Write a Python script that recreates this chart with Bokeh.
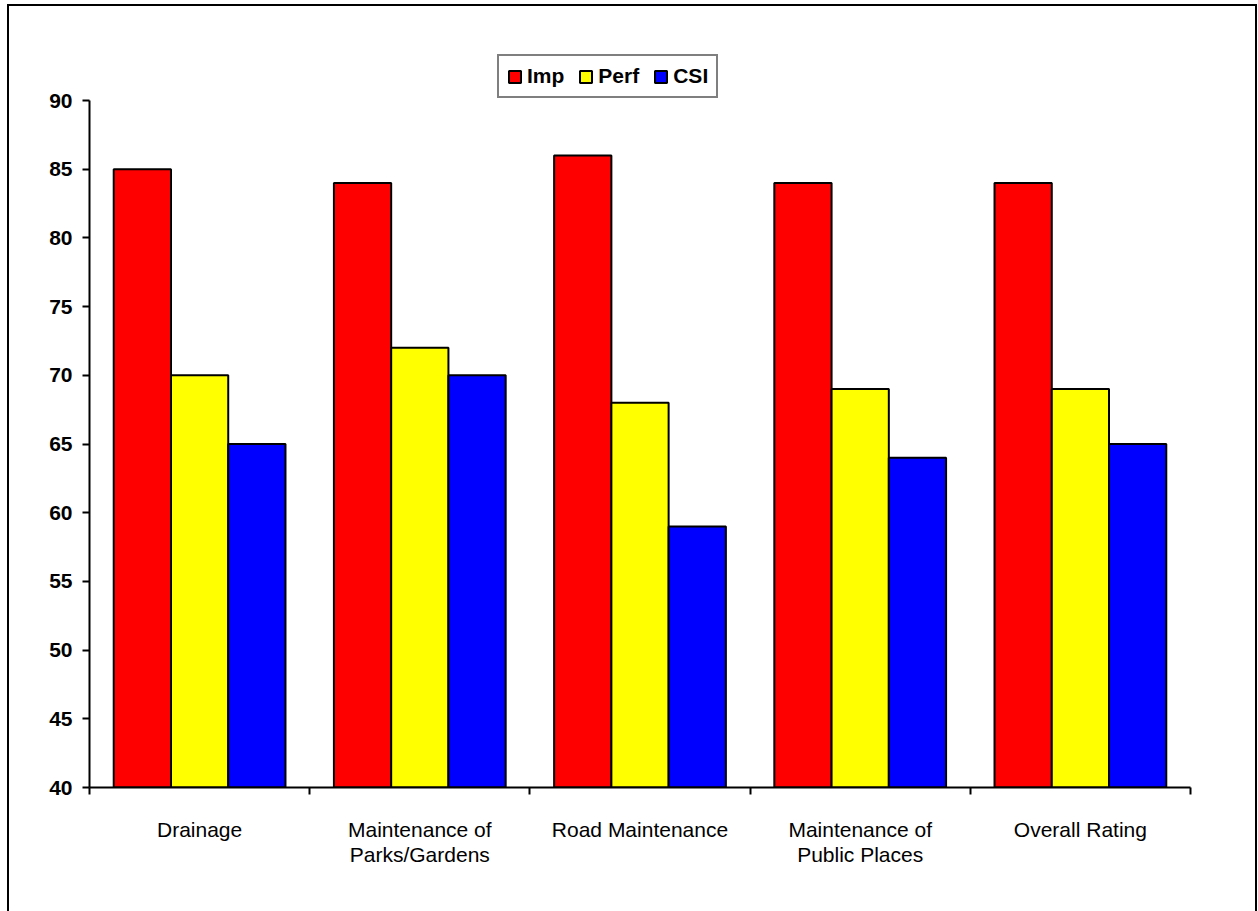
from bokeh.plotting import figure
from bokeh.models import FixedTicker, Legend, LegendItem, ColumnDataSource
from bokeh.embed import file_html
from bokeh.resources import INLINE

categories = ["Drainage", "Maintenance of\nParks/Gardens", "Road Maintenance",
              "Maintenance of\nPublic Places", "Overall Rating"]
imp = [85, 84, 86, 84, 84]
perf = [70, 72, 68, 69, 69]
csi = [65, 70, 59, 64, 65]
series_names = ["Imp", "Perf", "CSI"]
series_colors = ["#FF0000", "#FFFF00", "#0000FF"]
y_ticks = [40, 45, 50, 55, 60, 65, 70, 75, 80, 85, 90]

n = len(categories)
centers = [i + 0.5 for i in range(n)]

# frame extends 55px above the 90 tick to host the legend
y_top = 90 + 55 * 50 / 687

p = figure(width=1250, height=909, output_backend="svg", toolbar_location=None,
           x_range=(0, n), y_range=(40, y_top),
           min_border_left=80, min_border_right=69, min_border_top=39, min_border_bottom=128)
p.margin = (4, 0, 0, 7)
p.styles = {"border": "2px solid black", "box-sizing": "border-box"}
p.outline_line_color = None
p.xgrid.grid_line_color = None
p.ygrid.grid_line_color = None
p.background_fill_color = "white"
p.border_fill_color = "white"

offsets = [-0.26, 0.0, 0.26]
renderers = []
for vals, off, col in zip([imp, perf, csi], offsets, series_colors):
    src = ColumnDataSource(dict(x=[c + off for c in centers], top=vals, bottom=[40] * n))
    r = p.vbar(x="x", top="top", bottom="bottom", width=0.26, source=src,
               fill_color=col, line_color="black", line_width=2)
    renderers.append(r)

# x axis
xa = p.xaxis[0]
xa.ticker = FixedTicker(ticks=centers, minor_ticks=list(range(n + 1)))
xa.major_label_overrides = {c: lab for c, lab in zip(centers, categories)}
xa.major_tick_line_color = None
xa.major_tick_out = 0
xa.minor_tick_out = 7
xa.minor_tick_in = 0
xa.minor_tick_line_width = 2
xa.minor_tick_line_color = "black"
xa.axis_line_width = 2
xa.axis_line_color = "black"
xa.major_label_standoff = 23
xa.major_label_text_font = "Liberation Sans"
xa.major_label_text_font_size = "21px"
xa.major_label_text_line_height = 1.1
xa.major_label_text_color = "black"

ya = p.yaxis[0]
ya.ticker = FixedTicker(ticks=y_ticks, minor_ticks=[])
ya.bounds = (40, 90)
ya.axis_line_width = 2
ya.axis_line_color = "black"
ya.major_tick_out = 7
ya.major_tick_in = 0
ya.major_tick_line_width = 2
ya.major_tick_line_color = "black"
ya.minor_tick_line_color = None
ya.major_label_standoff = 10
ya.major_label_text_font = "Liberation Sans"
ya.major_label_text_font_size = "21px"
ya.major_label_text_font_style = "bold"
ya.major_label_text_color = "black"

legend = Legend(items=[LegendItem(label=nm, renderers=[r]) for nm, r in zip(series_names, renderers)],
                orientation="horizontal", location=(408, 689),
                label_text_font="Liberation Sans", label_text_font_size="21px",
                label_text_font_style="bold", label_text_color="black",
                glyph_width=15, glyph_height=15, label_standoff=5, spacing=14,
                padding=8, margin=0, border_line_color="black", border_line_width=2,
                background_fill_color="white", background_fill_alpha=1.0,
                label_height=20)
p.add_layout(legend, "center")

open("out.html", "w").write(file_html(p, INLINE))
